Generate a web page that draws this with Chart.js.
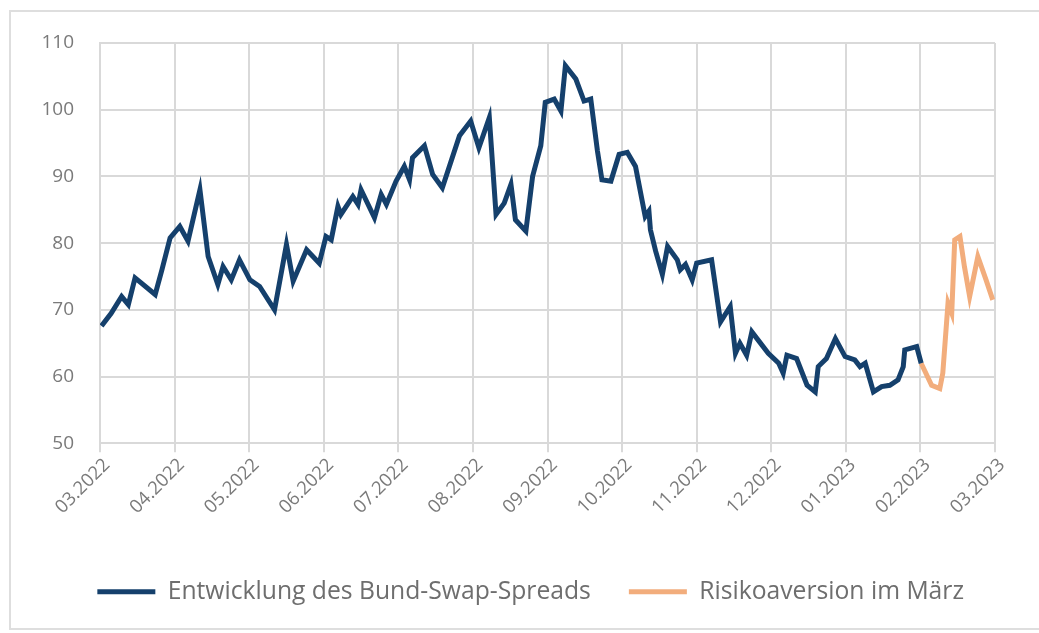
<!DOCTYPE html>
<html>
<head>
<meta charset="utf-8">
<script src="https://cdn.jsdelivr.net/npm/chart.js@4.4.1/dist/chart.umd.min.js"></script>
<style>
  html, body { margin: 0; padding: 0; background: #fff; overflow: hidden; }
  #frame {
    position: absolute; left: 9px; top: 10px; width: 1100px; height: 616px;
    border: 2px solid #dedede; border-right: none;
  }
  #wrap { position: absolute; left: 0; top: 0; width: 1039px; height: 633px; }
</style>
</head>
<body>
<div id="frame"></div>
<div id="wrap"><canvas id="spreadChart" width="1039" height="633"></canvas></div>
<script>
// month labels for the x axis (one per gridline)
const monthLabels = ["03.2022", "04.2022", "05.2022", "06.2022", "07.2022", "08.2022",
  "09.2022", "10.2022", "11.2022", "12.2022", "01.2023", "02.2023", "03.2023"];
const yTicks = [50, 60, 70, 80, 90, 100, 110];

// Bund-Swap-Spread, x = months since 03.2022
const spreadMonths = [0.02, 0.15, 0.29, 0.38, 0.47, 0.74, 0.83, 0.94, 1.07, 1.18, 1.34, 1.45,
  1.58, 1.65, 1.76, 1.87, 2.01, 2.14, 2.34, 2.50, 2.59, 2.77, 2.94, 3.03, 3.10, 3.19, 3.23,
  3.39, 3.46, 3.50, 3.68, 3.77, 3.84, 3.97, 4.08, 4.15, 4.19, 4.35, 4.46, 4.59, 4.82, 4.97,
  5.08, 5.22, 5.31, 5.42, 5.51, 5.57, 5.71, 5.80, 5.91, 5.97, 6.09, 6.18, 6.24, 6.38, 6.49,
  6.58, 6.67, 6.73, 6.85, 6.96, 7.07, 7.18, 7.31, 7.36, 7.38, 7.45, 7.54, 7.61, 7.74, 7.78,
  7.85, 7.94, 8.00, 8.20, 8.32, 8.45, 8.52, 8.58, 8.67, 8.74, 8.96, 9.10, 9.16, 9.21, 9.34,
  9.48, 9.59, 9.63, 9.74, 9.86, 9.99, 10.12, 10.19, 10.26, 10.37, 10.48, 10.59, 10.70, 10.77,
  10.79, 10.95, 11.01];
const spreadValues = [67.6, 69.5, 72.0, 70.8, 74.8, 72.3, 76.0, 80.8, 82.5, 80.3, 88.0, 78.0,
  73.8, 76.5, 74.5, 77.5, 74.5, 73.5, 70.0, 79.8, 74.3, 79.0, 77.0, 81.0, 80.5, 85.5, 84.3,
  87.0, 85.8, 88.0, 83.8, 87.3, 85.8, 89.3, 91.5, 89.5, 92.8, 94.6, 90.3, 88.3, 96.1, 98.3,
  94.3, 98.8, 84.3, 86.0, 88.8, 83.5, 81.8, 90.0, 94.6, 101.1, 101.6, 99.8, 106.6, 104.6, 101.3,
  101.6, 93.8, 89.5, 89.3, 93.3, 93.6, 91.5, 84.0, 84.8, 82.0, 78.8, 75.3, 79.5, 77.5, 76.0,
  76.8, 74.5, 77.0, 77.5, 68.2, 70.5, 63.5, 65.0, 63.2, 66.7, 63.5, 62.0, 60.5, 63.2, 62.7,
  58.7, 57.7, 61.5, 62.7, 65.7, 63.0, 62.5, 61.5, 62.0, 57.7, 58.5, 58.7, 59.5, 61.5,
  64.0, 64.5, 62.0];

// Risikoaversion im März
const riskMonths = [11.01, 11.15, 11.26, 11.30, 11.37, 11.42, 11.46, 11.53, 11.59, 11.66,
  11.77, 11.88, 11.97];
const riskValues = [62.0, 58.7, 58.2, 60.5, 71.0, 69.5, 80.5, 81.0, 76.5, 72.0, 78.0, 74.5, 71.5];

const seriesNames = ["Entwicklung des Bund-Swap-Spreads", "Risikoaversion im März"];

const toPoints = (xs, ys) => xs.map((x, i) => ({ x: x, y: ys[i] }));

const gridColor = "#d9d9d9";
const textColor = "#7a7a7a";

// nudge the legend row a little to the right, like the original
const legendShift = {
  id: "legendShift",
  afterLayout(c) {
    c.legend.left += 7;
    c.legend.right += 7;
  },
};

const ctx = document.getElementById("spreadChart").getContext("2d");
const chart = new Chart(ctx, {
  type: "line",
  data: {
    datasets: [
      {
        label: seriesNames[0],
        data: toPoints(spreadMonths, spreadValues),
        borderColor: "#15406c",
        backgroundColor: "#15406c",
        borderWidth: 5,
        pointRadius: 0,
        tension: 0,
      },
      {
        label: seriesNames[1],
        data: toPoints(riskMonths, riskValues),
        borderColor: "#f2ad7c",
        backgroundColor: "#f2ad7c",
        borderWidth: 5,
        pointRadius: 0,
        tension: 0,
      },
    ],
  },
  options: {
    responsive: false,
    animation: false,
    layout: { padding: { top: 43, right: 44, left: 0, bottom: 19 } },
    plugins: {
      tooltip: { enabled: false },
      legend: {
        position: "bottom",
        align: "end",
        labels: {
          color: "#6e6e6e",
          font: { family: "Open Sans", size: 24.7 },
          boxWidth: 58,
          boxHeight: 5,
          padding: 38,
          generateLabels: (c) => {
            const items = Chart.defaults.plugins.legend.labels.generateLabels(c);
            items.forEach((it) => {
              it.lineWidth = 0;
              it.fillStyle = it.strokeStyle;
            });
            return items;
          },
        },
      },
    },
    scales: {
      x: {
        type: "linear",
        min: 0,
        max: 12,
        afterFit: (scale) => { scale.height = 98; },
        afterBuildTicks: (scale) => {
          scale.ticks = monthLabels.map((_, i) => ({ value: i }));
        },
        grid: { color: gridColor, lineWidth: 2, tickLength: 9 },
        border: { color: gridColor, width: 2 },
        ticks: {
          color: textColor,
          font: { family: "Open Sans", size: 18.5 },
          minRotation: 45,
          maxRotation: 45,
          padding: 2,
          labelOffset: 7,
          callback: (v) => monthLabels[v],
        },
      },
      y: {
        min: 50,
        max: 110,
        afterFit: (scale) => { scale.width = 100; },
        afterBuildTicks: (scale) => {
          scale.ticks = yTicks.map((v) => ({ value: v }));
        },
        grid: { color: gridColor, lineWidth: 2, drawTicks: false },
        border: { color: gridColor, width: 2 },
        ticks: {
          color: textColor,
          font: { family: "Open Sans", size: 19 },
          padding: 26,
        },
      },
    },
  },
  plugins: [legendShift],
});
</script>
</body>
</html>
